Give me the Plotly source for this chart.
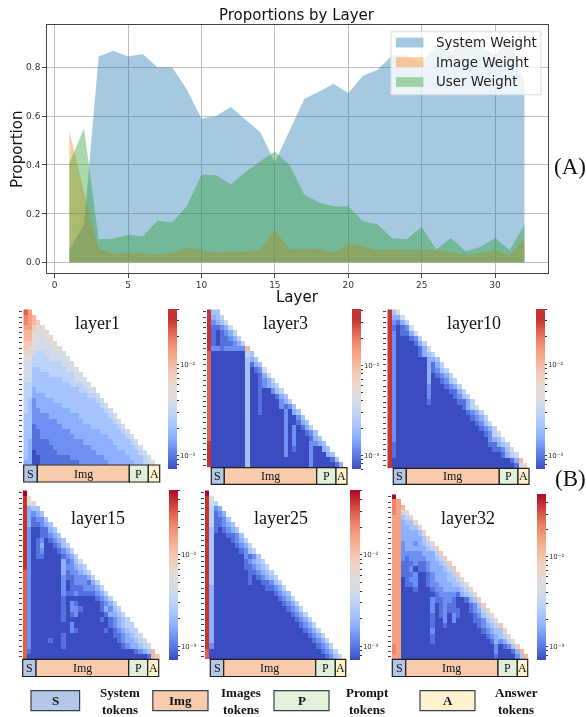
import plotly.graph_objects as go

W, H = 586, 717

layers = list(range(1, 33))
system_weight = [0.05, 0.155, 0.845, 0.868, 0.845, 0.855, 0.80, 0.80, 0.71, 0.59, 0.60, 0.637, 0.585, 0.535, 0.41, 0.54,
                 0.67, 0.70, 0.733, 0.695, 0.765, 0.79, 0.85, 0.85, 0.82, 0.89, 0.86, 0.925, 0.89, 0.85, 0.92, 0.74]
image_weight = [0.54, 0.29, 0.06, 0.033, 0.04, 0.037, 0.032, 0.038, 0.06, 0.05, 0.04, 0.043, 0.045, 0.053, 0.13, 0.056,
                0.053, 0.057, 0.04, 0.077, 0.065, 0.05, 0.052, 0.05, 0.05, 0.05, 0.043, 0.028, 0.038, 0.05, 0.03, 0.10]
user_weight = [0.405, 0.55, 0.095, 0.097, 0.113, 0.106, 0.17, 0.163, 0.23, 0.36, 0.357, 0.32, 0.37, 0.415, 0.455, 0.40,
               0.278, 0.245, 0.23, 0.23, 0.168, 0.155, 0.098, 0.096, 0.145, 0.053, 0.10, 0.045, 0.063, 0.10, 0.05, 0.155]

# Heat-map cells: one hex digit per cell (colour level 0-15).
layer1 = ["db", "cba", "cba9", "bb978", "aa877 8", "aa776 78", "99766 678", "98766 6677", "88655 66667",
          "77555 56666 7", "66555 55556 67", "66445 55555 667", "66444 45555 5566", "66444 44445 55667",
          "55444 44444 45556 6", "55344 44444 44455 66", "55333 44444 44444 556", "54233 33444 44444 4456",
          "54233 33334 44444 44456", "54223 33333 34444 44445 6", "44222 23333 33344 44444 56",
          "44222 22233 33334 44444 456", "44122 22223 33333 34444 4456", "44112 22222 23333 33344 44456",
          "44112 22222 22333 33333 44445 6", "43111 12222 22223 33333 34444 56",
          "43111 11222 22222 23333 33444 456", "43011 11122 22222 22333 33334 4456",
          "43001 11111 12222 22223 33333 44456", "33001 11111 11122 22222 33333 34456 7"]
layer3 = ["e44", "e345", "e2346", "e1123 6", "e1012 35", "e1011 235", "e1011 1235", "e2212 2222a",
          "d0000 00005 4", "d0000 00004 34", "d0000 00004 134", "d0000 00004 0126", "d0000 00004 00136",
          "d0000 00004 00123 5", "d0000 00004 00123 45", "d0000 00004 00100 245", "d0000 00004 00100 0134",
          "d0000 00004 00100 00235", "d0000 00004 00100 00212 4", "d0000 00004 00100 00020 34",
          "d0000 00004 00000 00020 024", "d0000 00004 00000 00020 0134", "d0000 00004 00000 00020 20135",
          "d0000 00004 00000 00020 20012 4", "d0000 00004 00000 00020 20001 34",
          "e0000 00004 00000 00020 20002 234", "e0000 00004 00000 00020 10002 0034",
          "e0000 00004 00000 00020 00002 00034", "e0000 00004 00000 00000 00002 00001 4",
          "e0000 00004 00000 00000 00002 00000 13"]
layer10 = ["e47", "e336", "e2135", "e1012 6", "e2011 36", "e2000 125", "e2000 0135", "e2000 00136", "e2000 00134 5",
           "e2000 00003 34", "e2000 00003 135", "e2000 00003 1245", "e2000 00003 01235", "e2000 00003 00124 5",
           "e2000 00002 00012 35", "e2000 00002 00001 135", "e2000 00002 00000 1245", "e2000 00001 00000 01135",
           "e2000 00000 00000 00135 6", "e2000 00000 00000 00012 35", "e2000 00000 00000 00001 235",
           "e2000 00000 00000 00000 1246", "e2000 00000 00000 00000 01235", "e2000 00000 00000 00000 00125 6",
           "e2000 00000 00000 00000 00023 46", "e1000 00000 00000 00000 00011 345",
           "e1000 00000 00000 00000 00001 1246", "e1000 00000 00000 00000 00000 01356",
           "e0000 00000 00000 00000 00000 00013 a", "e0000 00000 00000 00000 00000 00001 68"]
layer15 = ["f", "e7", "e78", "e344", "e3234", "e3122 4", "e3112 34", "e2001 134", "e2001 1234", "e2012 01234",
           "e2013 00124 5", "e2012 00012 35", "e2011 00001 235", "e2000 00003 1246", "e2000 00003 22345",
           "d2000 00003 12234 5", "d2000 00002 11222 35", "d2000 00002 01222 135", "d2000 00002 01112 2235",
           "d2000 00002 11211 11235", "d2000 00001 00000 00123 5", "d2000 00001 02100 00012 35",
           "d2000 00001 02210 00013 245", "d2000 00001 01200 00001 3345", "d2000 00001 00000 00010 12345",
           "d2000 00000 02000 00000 12345 5", "d2000 00000 02100 00001 01234 55",
           "d2000 00001 00000 00000 01123 456", "d2000 01001 00000 00000 00123 3456",
           "d2000 00001 00000 00000 00012 33456", "d1000 00000 00000 00000 00000 01234 a",
           "d0000 00000 00000 00000 00000 00001 a9"]
layer25 = ["f", "e7", "e65", "e523", "e5123", "e5112 4", "e5112 34", "e4101 234", "e4000 1124", "e4000 01235",
           "e4000 00123 5", "e4000 00012 45", "e4000 00002 124", "e4000 00001 2345", "e4000 00001 12345",
           "e4000 00000 11234 5", "e4000 00000 10123 45", "e4000 00000 10011 245", "e3000 00000 00001 1235",
           "e3000 00000 00000 01234", "e3000 00000 00000 00123 5", "e3000 00000 00000 00012 35",
           "e3000 00000 00000 00001 235", "e3000 00000 00000 00000 1235", "e3000 00000 00000 00000 01235",
           "e3000 00000 00000 00000 00123 5", "e3000 00000 00000 00000 00012 35",
           "e3000 00000 00000 00000 00001 235", "e3000 00000 00000 00000 00000 1235",
           "e2000 00000 00000 00000 00000 01235", "d0000 00000 00000 00000 00000 00123 5",
           "d0000 00000 00000 00000 00000 00012 45"]
layer32 = ["f", "cb", "cba", "cb68", "bb458", "bb344 8", "bb334 48", "bb333 348", "bb333 3348", "bb233 23458",
           "bb233 33345 9", "bb222 22333 59", "bb212 22233 459", "bb111 21123 3459", "bb112 01123 33459",
           "bb111 20012 33345 9", "bb012 20012 33344 58", "bb011 20012 23334 458", "bb000 10001 22333 3458",
           "bb000 00000 12222 13458", "bb000 00002 11221 00134 9", "bb000 00002 01211 00012 49",
           "bb000 00002 01211 10012 358", "bb000 00001 01202 10001 2458", "bb000 00001 00202 00001 12458",
           "bb000 00001 00100 00000 12345 9", "bb000 00002 00000 00000 01234 48",
           "bb000 00001 00000 00000 00123 458", "bb000 00001 00000 00000 00013 2357",
           "cb000 00000 00000 00000 00002 01249", "cb000 00000 00000 00000 00002 00013 a",
           "bb000 00000 00000 00000 00001 00002 4a"]

panel_names = ["layer1", "layer3", "layer10", "layer15", "layer25", "layer32"]
panel_cells = [layer1, layer3, layer10, layer15, layer25, layer32]
panel_cols = [31, 32, 32, 32, 32, 32]

# left, right, top, bottom of each heat map in page pixels
heat_box = [(23.3, 155.3, 309.3, 464.8), (207, 343.3, 309.3, 467.7), (387.3, 527.7, 309.3, 468.3),
            (22.7, 160, 490.3, 659.3), (205, 341.7, 490.3, 659.3), (392, 528.3, 494.3, 659.3)]
# left, right, top, bottom of each colour bar and position of the two decades on it (fraction from the bottom)
bar_box = [(168, 177, 309.3, 469.3, .656, .085), (352, 360.7, 309.3, 469, .651, .088),
           (536, 545, 309.3, 469, .656, .085), (168.7, 178, 490.3, 660.3, .62, .082),
           (350, 359.7, 490.3, 660.3, .62, .082), (537, 545.7, 494.3, 660.7, .623, .082)]
bar_top = ["#c83232", "#c83232", "#c83232", "#b40426", "#b40426", "#b40426"]
# token strip: y top, y bottom, then S-start, S-end, Img-end, P-end, A-end
strip = [(465, 482, 23.7, 37.3, 129.3, 148.3, 159.7), (467.7, 484.3, 211.3, 224.3, 316.7, 336, 347),
         (468.3, 484.3, 393.3, 406.3, 499.3, 518, 529), (659.3, 676.5, 22.7, 36, 128.7, 147.7, 158.7),
         (659.3, 676.5, 210.3, 223.7, 315.7, 335.3, 345.7), (659.3, 676.5, 392.3, 405.7, 498, 517.3, 527.7)]
title_pos = [(97, 323), (285.7, 323), (474, 323), (98, 518), (281, 518), (468, 518)]

token_labels = ["S", "Img", "P", "A"]
token_fill = ["#b4c7e7", "#f8cbad", "#e2efda", "#fff2cc"]
key_box = [(31, 79.6), (152.8, 208), (274, 329), (420, 475)]
key_text = [("System", "tokens", 120), ("Images", "tokens", 241), ("Prompt", "tokens", 367), ("Answer", "tokens", 516)]

series_names = ["System Weight", "Image Weight", "User Weight"]
series_fill = ["rgba(31,119,180,0.4)", "rgba(255,127,14,0.4)", "rgba(44,160,44,0.4)"]
legend_rows = [42.5, 62.2, 82]

cool_stops = ["#3b4cc0", "#5571dd", "#6e90f2", "#8db0fe", "#a5c3fe", "#bcd2f7", "#d1dae9", "#dddcdc",
              "#e8d6cc", "#f2cbb7", "#f6b79c", "#f59f80", "#ee8468", "#de614d", "#c53334"]


def px(x):
    return x / W


def py(y):
    return 1 - y / H


fig = go.Figure()
for name, vals, col in zip(series_names, [system_weight, image_weight, user_weight], series_fill):
    fig.add_trace(go.Scatter(x=layers, y=vals, name=name, mode="none",
                             fill="tozeroy", fillcolor=col, xaxis="x", yaxis="y"))

DV = "DejaVu Sans"
SERIF = "Liberation Serif"
AX = "#444444"
GRID = "#bdbdbd"
layout = dict(
    width=W, height=H, margin=dict(l=0, r=0, t=0, b=0), paper_bgcolor="white", plot_bgcolor="white",
    showlegend=False,
    xaxis=dict(domain=[px(46.7), px(547.5)], range=[-0.54, 33.57], tickvals=[0, 5, 10, 15, 20, 25, 30],
               showgrid=True, gridcolor=GRID, gridwidth=1, zeroline=False, showline=True, mirror=True,
               linecolor=AX, linewidth=1, ticks="outside", ticklen=3.5, tickcolor=AX,
               tickfont=dict(family=DV, size=9, color="#333"), anchor="y"),
    yaxis=dict(domain=[py(273), py(24.7)], range=[-0.044, 0.975], tickvals=[0, 0.2, 0.4, 0.6, 0.8],
               tickformat=".1f", showgrid=True, gridcolor=GRID, gridwidth=1, zeroline=False, showline=True,
               mirror=True, linecolor=AX, linewidth=1, ticks="outside", ticklen=3.5, tickcolor=AX,
               tickfont=dict(family=DV, size=9, color="#333"), anchor="x"),
)

shapes = []
annotations = []


def text(x, y, s, family, size, color="#111", bold=False, angle=0, anchor="center"):
    annotations.append(dict(x=px(x), y=py(y), xref="paper", yref="paper", text=f"<b>{s}</b>" if bold else s,
                            showarrow=False, xanchor=anchor, yanchor="middle", textangle=angle,
                            font=dict(family=family, size=size, color=color)))


def box(x0, x1, y0, y1, fill, line=None, width=1.2):
    shapes.append(dict(type="rect", xref="paper", yref="paper", x0=px(x0), x1=px(x1), y0=py(y1), y1=py(y0),
                       fillcolor=fill, line=dict(color=line or "rgba(0,0,0,0)", width=width if line else 0),
                       layer="above"))


text(297, 15, "Proportions by Layer", DV, 15)
text(17, 150, "Proportion", DV, 15, angle=-90)
text(297, 297, "Layer", DV, 15)
text(570, 166, "(A)", SERIF, 23)
text(570, 478, "(B)", SERIF, 23)

box(391, 541, 31.7, 94.7, "rgba(255,255,255,0.8)", "#dddddd", 1)
for name, col, ry in zip(series_names, series_fill, legend_rows):
    box(396, 423.4, ry - 4.9, ry + 4.9, col)
    text(433.5, ry, name, DV, 13.4, color="#222", anchor="left")

LOGS = [0.30103, 0.47712, 0.60206, 0.69897, 0.77815, 0.84510, 0.90309, 0.95424]

for i, (name, rows, ncol) in enumerate(zip(panel_names, panel_cells, panel_cols)):
    n = i + 2
    z = []
    for row in rows:
        cells = [int(c, 16) for c in row.replace(" ", "")]
        z.append(cells + [None] * (ncol - len(cells)))
    left, right, top, bottom = heat_box[i]
    bl, br, bt, bb, d2, d3 = bar_box[i]
    dec = (d2 - d3) * 15
    tv, tt = [], []
    for base, lab in [(d3 * 15, "10\u207b\u00b3"), (d2 * 15, "10\u207b\u00b2")]:
        tv.append(base)
        tt.append(lab)
        for l in LOGS:
            v = base + l * dec
            if v <= 15:
                tv.append(v)
                tt.append("")
    for l in LOGS[::-1]:
        v = d3 * 15 + (l - 1) * dec
        if v >= 0:
            tv.append(v)
            tt.append("")
    scale = [[k / 15, c] for k, c in enumerate(cool_stops)] + [[1, bar_top[i]]]
    fig.add_trace(go.Heatmap(
        z=z, x=list(range(ncol)), y=list(range(len(rows))), zmin=0, zmax=15, colorscale=scale, hoverongaps=False,
        xaxis=f"x{n}", yaxis=f"y{n}",
        colorbar=dict(x=px(bl), xanchor="left", y=py(bt), yanchor="top", len=bb - bt, lenmode="pixels",
                      thickness=br - bl, thicknessmode="pixels", outlinewidth=0, borderwidth=0, xpad=0, ypad=0,
                      tickmode="array", tickvals=tv, ticktext=tt, ticks="outside", ticklen=2, tickwidth=0.6,
                      tickcolor="#333", tickfont=dict(family=DV, size=7, color="#333"))))
    layout[f"xaxis{n}"] = dict(domain=[px(left), px(right)], range=[-0.5, ncol - 0.5], showgrid=False, zeroline=False,
                               showticklabels=False, ticks="", anchor=f"y{n}")
    layout[f"yaxis{n}"] = dict(domain=[py(bottom), py(top)], range=[len(rows) - 0.5, -0.5], showgrid=False,
                               zeroline=False, showticklabels=False, ticks="outside", ticklen=3, tickwidth=0.7,
                               tickcolor="#444", tickvals=list(range(len(rows))), anchor=f"x{n}")
    tx, ty = title_pos[i]
    text(tx, ty, name, SERIF, 18)
    st, sb, *edges = strip[i]
    for j, lab in enumerate(token_labels):
        box(edges[j], edges[j + 1], st, sb, token_fill[j], "#1f1f1f", 1.2)
        text((edges[j] + edges[j + 1]) / 2, (st + sb) / 2, lab, SERIF, 12)

for (x0, x1), lab, fill, (a, b, cx) in zip(key_box, token_labels, token_fill, key_text):
    box(x0, x1, 690.7, 710.7, fill, "#33414f", 1.2)
    text((x0 + x1) / 2, 700.7, lab, SERIF, 13, bold=True)
    text(cx, 692.7, a, SERIF, 13, bold=True)
    text(cx, 709.5, b, SERIF, 13, bold=True)

layout["shapes"] = shapes
layout["annotations"] = annotations
fig.update_layout(**layout)
fig.write_html("out.html", config={"displayModeBar": False},
               post_script="document.body.style.margin='0';document.body.style.overflow='hidden';"
                           "document.querySelector('.plotly-graph-div').style.filter='blur(0.4px)';")
